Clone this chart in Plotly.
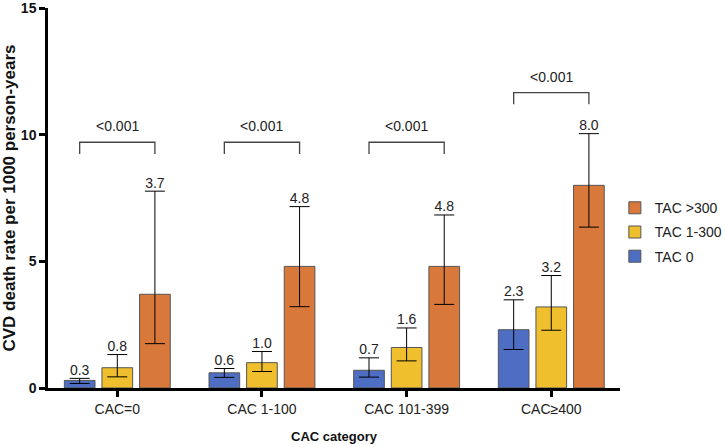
import plotly.graph_objects as go

categories = ["CAC=0", "CAC 1-100", "CAC 101-399", "CAC\u2265400"]
series_names = ["TAC 0", "TAC 1-300", "TAC >300"]
tac0 = [0.3, 0.6, 0.7, 2.3]
tac0_lo = [0.18, 0.42, 0.43, 1.52]
tac0_hi = [0.38, 0.77, 1.19, 3.48]
tac1 = [0.8, 1.0, 1.6, 3.2]
tac1_lo = [0.44, 0.65, 1.07, 2.28]
tac1_hi = [1.32, 1.44, 2.37, 4.44]
tac2 = [3.7, 4.8, 4.8, 8.0]
tac2_lo = [1.75, 3.21, 3.3, 6.35]
tac2_hi = [7.77, 7.16, 6.83, 10.04]
p_values = ["<0.001", "<0.001", "<0.001", "<0.001"]
bracket_y = [9.7, 9.7, 9.7, 11.66]
y_ticks = [0, 5, 10, 15]

colors = ["#4E6EC3", "#EFBF2E", "#D8783A"]
FONT = "Liberation Sans, Arial, sans-serif"
slot = 0.26
bar_w = 0.212

fig = go.Figure()
data = [(tac0, tac0_lo, tac0_hi), (tac1, tac1_lo, tac1_hi), (tac2, tac2_lo, tac2_hi)]
for k, (vals, lo, hi) in enumerate(data):
    xs = [i + (k - 1) * slot for i in range(len(categories))]
    fig.add_trace(go.Bar(
        x=xs, y=vals, width=bar_w, name=series_names[k],
        marker=dict(color=colors[k], line=dict(color="#555555", width=1)),
        error_y=dict(type="data", symmetric=False,
                     array=[h - v for h, v in zip(hi, vals)],
                     arrayminus=[v - l for v, l in zip(vals, lo)],
                     color="black", thickness=1, width=10),
        legendgroup=series_names[k], legendrank=3 - k,
    ))
    fig.add_trace(go.Scatter(
        x=xs, y=hi, mode="text", text=[f"{v:.1f}" for v in vals],
        textposition="top center", textfont=dict(size=14, color="#222", family=FONT),
        showlegend=False, hoverinfo="skip",
    ))

leg = 0.46
for i, (p, by) in enumerate(zip(p_values, bracket_y)):
    x0 = i - slot
    x1 = i + slot
    fig.add_shape(type="path", xref="x", yref="y",
                  path=f"M {x0},{by-leg} L {x0},{by} L {x1},{by} L {x1},{by-leg}",
                  line=dict(color="#444", width=1.3))
    fig.add_annotation(x=i, y=by, text=p, showarrow=False, yanchor="bottom",
                       yshift=6, font=dict(size=14, color="#222", family=FONT))

fig.update_layout(
    width=725, height=445,
    margin=dict(l=48, r=105, t=8, b=57, autoexpand=False),
    plot_bgcolor="white", paper_bgcolor="white",
    barmode="overlay",
    font=dict(family=FONT, color="#111"),
    showlegend=True,
    legend=dict(x=0.991, y=0.41, xanchor="left", yanchor="middle",
                font=dict(size=14, family=FONT, color="#222"),
                itemwidth=30,
                tracegroupgap=3, bgcolor="rgba(0,0,0,0)"),
)
fig.update_xaxes(
    range=[-0.479, 3.475], tickvals=list(range(len(categories))), ticktext=categories,
    showline=True, linecolor="black", linewidth=2.5,
    ticks="outside", ticklen=6, tickwidth=2.5, tickcolor="black",
    tickfont=dict(size=14, family=FONT, color="#222"),
    showgrid=False, zeroline=False, automargin=False,
    title=dict(text="<b>CAC category</b>", font=dict(size=13, family=FONT, color="#111"), standoff=17),
)
fig.update_yaxes(
    range=[0, 15], tickvals=y_ticks,
    showline=True, linecolor="black", linewidth=2.5,
    ticks="outside", ticklen=6, tickwidth=2.5, tickcolor="black",
    tickfont=dict(size=14, family=FONT, color="#111", weight="bold"),
    ticklabeloverflow="allow",
    showgrid=False, zeroline=False, automargin=False,
    title=dict(text="<b>CVD death rate per 1000 person-years</b>", font=dict(size=17, family=FONT, color="#111"), standoff=6),
)

fig.write_html("out.html", config={"displayModeBar": False},
               post_script="document.body.style.margin='0';")
